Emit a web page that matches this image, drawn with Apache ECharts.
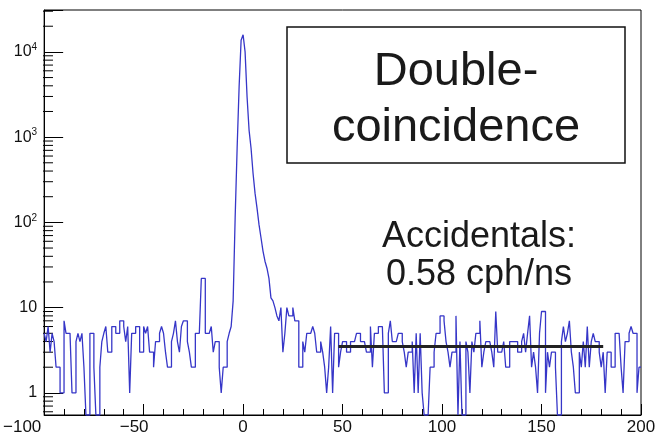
<!DOCTYPE html>
<html>
<head>
<meta charset="utf-8">
<script src="https://cdn.jsdelivr.net/npm/echarts@6/dist/echarts.min.js"></script>
<style>
  html, body { margin: 0; padding: 0; background: #fff; }
  #chart { width: 659px; height: 439px; }
</style>
</head>
<body>
<div id="chart"></div>
<script>
// Time-difference histogram, 1 ns bins from -100 to 200 ns
const X_MIN = -100;
const X_MAX = 200;
const BIN_WIDTH = 1;
const Y_MIN = 0.55;
const Y_MAX = 31000;

// counts per bin, -100 .. -41 ns
const countsLow = [
  5, 4, 6, 3, 5, 4, 2, 2, 1, 1,
  7, 5, 5, 5, 1, 1, 4, 5, 4, 5,
  2, 0, 0, 5, 5, 2, 0, 0, 2, 4,
  5, 6, 3, 3, 6, 6, 5, 5, 7, 7,
  6, 4, 6, 1, 5, 5, 6, 6, 3, 3,
  6, 5, 6, 3, 3, 2, 4, 4, 5, 6
];
// counts per bin, -40 .. 39 ns (coincidence peak)
const countsCore = [
  5, 3, 2, 2, 4, 5, 7, 4, 3, 6,
  7, 7, 4, 3, 2, 2, 5, 5, 5, 22,
  22, 5, 5, 5, 6, 3, 4, 4, 2, 1,
  2, 2, 4, 5, 6, 12, 112, 740, 3900, 13700,
  15900, 10000, 2960, 1210, 740, 377, 220, 147, 94, 66,
  46, 35, 29, 22, 13, 12, 10, 8, 7, 10,
  3, 5, 10, 8, 8, 10, 7, 7, 2, 2,
  4, 3, 5, 5, 5, 6, 5, 3, 3, 4
];
// counts per bin, 40 .. 199 ns
const countsHigh = [
  3, 2, 1, 2, 6, 1, 5, 5, 2, 3,
  4, 4, 3, 3, 4, 4, 4, 5, 5, 4,
  4, 4, 3, 3, 6, 2, 5, 5, 6, 6,
  6, 1, 1, 5, 7, 4, 4, 4, 5, 5,
  4, 3, 2, 3, 3, 4, 1, 5, 1, 5,
  1, 0, 0, 0, 2, 2, 3, 5, 5, 8,
  8, 7, 4, 3, 2, 3, 3, 8, 0, 4,
  0, 0, 4, 3, 1, 4, 3, 5, 5, 7,
  2, 3, 4, 4, 4, 3, 2, 9, 3, 3,
  3, 4, 2, 2, 4, 4, 4, 4, 3, 3,
  4, 5, 3, 5, 8, 2, 3, 2, 1, 5,
  9, 9, 1, 3, 2, 3, 3, 2, 0, 0,
  4, 6, 4, 5, 7, 3, 2, 1, 1, 3,
  2, 4, 2, 6, 2, 4, 5, 4, 4, 3,
  2, 3, 1, 3, 3, 2, 2, 5, 5, 5,
  2, 1, 4, 4, 5, 6, 5, 5, 1, 2
];

// flat accidental level fitted over the side band
const accidentalRange = [48, 181];
const accidentalLevel = 3.5;

const yTickLabels = { 0: '1', 1: '10', 2: '10{s|2}', 3: '10{s|3}', 4: '10{s|4}' };
const boxLines = ['Double-', 'coincidence'];
const noteLines = ['Accidentals:', '0.58 cph/ns'];

const FONT = '"Liberation Sans", Arial, Helvetica, sans-serif';

const counts = countsLow.concat(countsCore, countsHigh);
// empty bins fall to the bottom of the log frame
const histPoints = counts.map((c, i) => [X_MIN + i * BIN_WIDTH, c > 0 ? c : Y_MIN]);
histPoints.push([X_MAX, histPoints[histPoints.length - 1][1]]);

// negative labels sit a little to the left of their ticks
const xLabelShift = { '-100': 44, '-50': 19 };

const chart = echarts.init(document.getElementById('chart'), null, { renderer: 'canvas' });

const option = {
  animation: false,
  backgroundColor: '#fff',
  grid: {
    left: 43, right: 18, top: 10, bottom: 24,
    show: true, borderColor: '#000', borderWidth: 1, backgroundColor: 'transparent'
  },
  xAxis: {
    type: 'value',
    min: X_MIN, max: X_MAX, interval: 50,
    axisLine: { show: true, onZero: false, lineStyle: { color: '#000', width: 1 } },
    axisTick: { show: true, inside: true, length: 11, lineStyle: { color: '#000' } },
    minorTick: { show: true, splitNumber: 5, length: 6, lineStyle: { color: '#000' } },
    splitLine: { show: false },
    axisLabel: {
      fontSize: 17, color: '#111', fontFamily: FONT, margin: 4,
      formatter: v => {
        const t = String(v).replace('-', '\u2212');
        const p = xLabelShift[String(v)];
        return p ? '{n' + p + '|' + t + '}' : t;
      },
      rich: {
        n44: { fontSize: 17, fontFamily: FONT, color: '#111', padding: [0, 44, 0, 0] },
        n19: { fontSize: 17, fontFamily: FONT, color: '#111', padding: [0, 19, 0, 0] }
      }
    }
  },
  yAxis: {
    type: 'log', logBase: 10,
    min: Y_MIN, max: Y_MAX,
    axisLine: { show: true, onZero: false, lineStyle: { color: '#000', width: 1 } },
    axisTick: { show: true, inside: true, length: 19, lineStyle: { color: '#000' } },
    splitLine: { show: false },
    axisLabel: {
      color: '#111', fontFamily: FONT, fontSize: 16, margin: 7,
      formatter: v => {
        const e = Math.log10(v);
        const r = Math.round(e);
        if (Math.abs(e - r) > 1e-6) return '';
        return yTickLabels[r] || '';
      },
      rich: {
        s: { fontSize: 10, fontFamily: FONT, color: '#111', verticalAlign: 'top', padding: [0, 0, 9, 0] }
      }
    }
  },
  series: [
    {
      type: 'line',
      data: histPoints,
      step: 'end',
      showSymbol: false,
      clip: true,
      lineStyle: { color: '#3636c8', width: 1.3 }
    },
    {
      type: 'line',
      data: [[accidentalRange[0], accidentalLevel], [accidentalRange[1], accidentalLevel]],
      showSymbol: false,
      lineStyle: { color: '#222', width: 3 },
      z: 5
    }
  ]
};

chart.setOption(option);

// minor ticks at 2..9 of each decade on the log axis
const gridLeft = 43;
const graphics = [];
for (let d = -1; d <= 4; d++) {
  for (let m = 2; m <= 9; m++) {
    const v = m * Math.pow(10, d);
    if (v < Y_MIN || v > Y_MAX) continue;
    const py = chart.convertToPixel({ yAxisIndex: 0 }, v);
    graphics.push({
      type: 'line', silent: true,
      shape: { x1: gridLeft, y1: py, x2: gridLeft + 10, y2: py },
      style: { stroke: '#000', lineWidth: 1 }
    });
  }
}

// title box
graphics.push({
  type: 'rect', silent: true, z: 10,
  shape: { x: 287, y: 27, width: 338, height: 136 },
  style: { fill: '#fff', stroke: '#111', lineWidth: 1.5 }
});
boxLines.forEach((t, i) => {
  graphics.push({
    type: 'text', silent: true, z: 11,
    style: {
      x: 456, y: 72 + i * 56, text: t, fill: '#1a1a1a',
      font: '47px ' + FONT, textAlign: 'center', textVerticalAlign: 'middle'
    }
  });
});
noteLines.forEach((t, i) => {
  graphics.push({
    type: 'text', silent: true, z: 11,
    style: {
      x: 479, y: 237 + i * 38, text: t, fill: '#1a1a1a',
      font: '36px ' + FONT, textAlign: 'center', textVerticalAlign: 'middle'
    }
  });
});

chart.setOption({ graphic: graphics });
</script>
</body>
</html>
